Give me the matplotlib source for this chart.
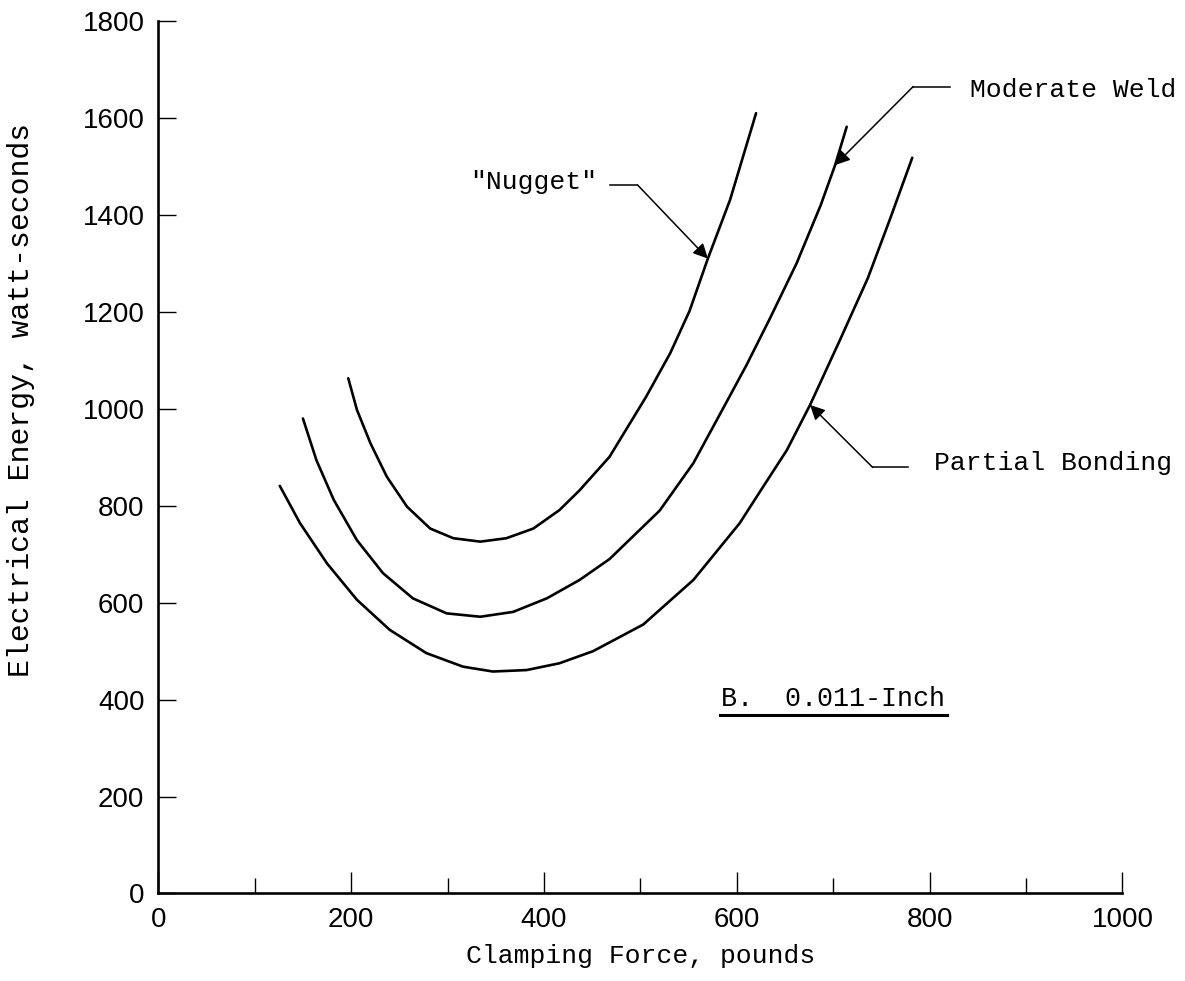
import matplotlib.pyplot as plt
from matplotlib.ticker import MultipleLocator

# Values (clamping force, pounds -> energy, watt-seconds)
nugget_x = [197, 206, 220, 237, 258, 282, 306, 334, 361, 389, 416, 437, 468,
            506, 531, 551, 570, 593, 620]
nugget_y = [1063, 998, 929, 860, 798, 753, 733, 726, 733, 753, 791, 832, 901,
            1025, 1115, 1202, 1310, 1431, 1610]

moderate_x = [150, 164, 182, 206, 233, 264, 299, 334, 368, 403, 437, 468, 520,
              555, 591, 610, 634, 662, 687, 702, 714]
moderate_y = [980, 894, 812, 729, 661, 609, 578, 571, 581, 609, 647, 690, 790,
              888, 1020, 1090, 1185, 1300, 1420, 1503, 1582]

partial_x = [126, 147, 175, 206, 240, 278, 316, 347, 382, 416, 451, 503, 555,
             603, 624, 652, 676, 707, 736, 759, 782]
partial_y = [841, 764, 681, 606, 544, 496, 468, 458, 461, 475, 500, 555, 647,
             764, 829, 915, 1008, 1142, 1270, 1392, 1518]

x_ticks = [0, 200, 400, 600, 800, 1000]
y_ticks = [0, 200, 400, 600, 800, 1000, 1200, 1400, 1600, 1800]

mono = 'Liberation Mono'
num_font = ['Liberation Sans Narrow', 'Liberation Sans', 'DejaVu Sans']

fig = plt.figure(figsize=(11.85, 9.81), dpi=100)
ax = fig.add_axes([0.1336, 0.0892, 0.8136, 0.8893])

# Curves
for xs, ys in [(nugget_x, nugget_y), (moderate_x, moderate_y), (partial_x, partial_y)]:
    ax.plot(xs, ys, color='black', linewidth=1.9, solid_capstyle='round',
            solid_joinstyle='round')

ax.set_xlim(0, 1000)
ax.set_ylim(0, 1800)

for side in ['top', 'right']:
    ax.spines[side].set_visible(False)
for side in ['left', 'bottom']:
    ax.spines[side].set_linewidth(1.9)

ax.set_xticks(x_ticks)
ax.set_yticks(y_ticks)
ax.xaxis.set_minor_locator(MultipleLocator(100))
ax.tick_params(axis='both', which='major', direction='in', width=1.0,
               labelsize=20, pad=10)
ax.tick_params(axis='x', which='major', length=15)
ax.tick_params(axis='y', which='major', length=13)
ax.tick_params(axis='x', which='minor', direction='in', length=11, width=1.0)
ax.tick_params(axis='y', which='minor', length=0)
for lab in ax.get_xticklabels() + ax.get_yticklabels():
    lab.set_family(num_font)

ax.set_xlabel('Clamping Force, pounds', fontfamily=mono, fontsize=19, labelpad=8)
ax.set_ylabel('Electrical Energy, watt-seconds', fontfamily=mono, fontsize=21.5)
ax.yaxis.set_label_coords(-0.128, 0.566)

arrow = dict(arrowstyle='-|>', color='black', lw=1.1, mutation_scale=22,
             shrinkA=0, shrinkB=0)

# "Nugget" label with leader
ax.text(455, 1468, '"Nugget"', fontfamily=mono, fontsize=19, ha='right', va='center')
ax.plot([469, 497], [1462, 1462], color='black', lw=1.1)
ax.annotate('', xy=(570, 1310), xytext=(497, 1462), arrowprops=arrow)

# Moderate Weld label with leader
ax.text(842, 1658, 'Moderate Weld', fontfamily=mono, fontsize=19, ha='left', va='center')
ax.plot([821, 783], [1665, 1665], color='black', lw=1.1)
ax.annotate('', xy=(702, 1503), xytext=(783, 1665), arrowprops=arrow)

# Partial Bonding label with leader
ax.text(805, 888, 'Partial Bonding', fontfamily=mono, fontsize=19, ha='left', va='center')
ax.plot([778, 741], [879, 879], color='black', lw=1.1)
ax.annotate('', xy=(676, 1008), xytext=(741, 879), arrowprops=arrow)

# Panel caption with underline
ax.text(584, 401, 'B.  0.011-Inch', fontfamily=mono, fontsize=19.3, ha='left', va='center')
ax.plot([583, 818], [368, 368], color='black', lw=2.2)

fig.savefig('out.png', dpi=100)
